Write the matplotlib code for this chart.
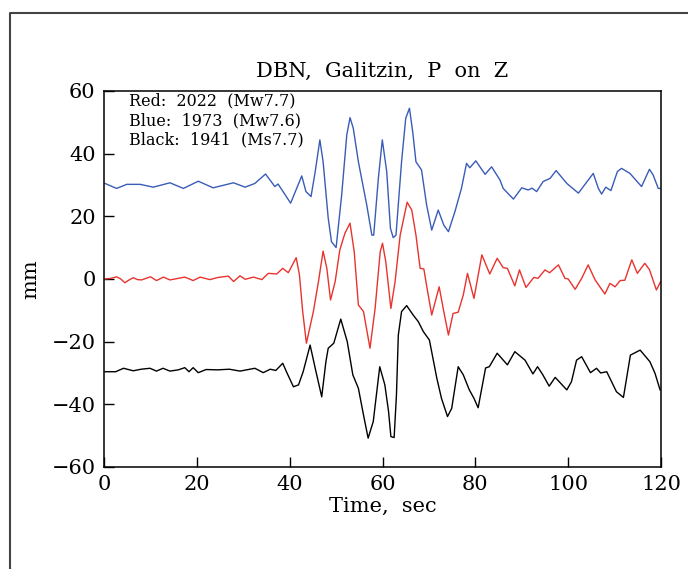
import matplotlib
matplotlib.use('Agg')
import matplotlib.pyplot as plt
from matplotlib.lines import Line2D

# seismogram traces (time in sec, amplitude in mm)
blue_t = [0.2, 2.7, 4.9, 7.8, 10.6, 14.2, 17.1, 20.3, 23.5, 27.9, 30.4, 32.5, 34.8, 36.8, 37.5,
          40.2, 42.6, 43.5, 44.6, 45.5, 46.5, 47.2, 48.3, 49.0, 50.0, 51.2, 52.3, 53.0, 53.7,
          54.8, 56.6, 57.7, 58.1, 59.1, 59.95, 60.9, 61.7, 62.3, 62.9, 64.1, 65.0, 65.8, 66.5,
          67.2, 68.4, 69.5, 70.6, 72.0, 73.2, 74.2, 75.6, 77.0, 78.1, 78.8, 80.1, 82.1, 83.5,
          85.3, 86.0, 88.2, 90.0, 91.4, 92.2, 93.2, 94.6, 96.1, 97.4, 99.7, 102.2, 105.4, 106.5,
          107.2, 108.1, 109.2, 110.6, 111.5, 113.3, 115.8, 117.5, 118.3, 119.4, 120.0]
blue_mm = [30.5, 28.9, 30.2, 30.2, 29.3, 30.7, 28.9, 31.2, 29.1, 30.7, 29.3, 30.5, 33.5, 29.5, 30.3,
           24.2, 32.9, 27.9, 26.3, 34.3, 44.4, 37.4, 19.4, 11.9, 10.0, 26.8, 46.0, 51.5, 48.1,
           37.4, 23.6, 14.0, 14.0, 32.1, 44.4, 34.3, 16.2, 13.2, 14.0, 37.4, 51.3, 54.5, 47.0,
           37.4, 34.8, 23.6, 15.6, 22.0, 17.2, 15.1, 21.5, 28.9, 36.9, 35.5, 37.7, 33.4, 35.8,
           31.6, 28.9, 25.5, 29.1, 28.4, 29.0, 27.9, 31.1, 32.1, 34.6, 30.5, 27.4, 33.7, 28.9,
           27.1, 29.3, 28.2, 34.3, 35.3, 33.7, 29.5, 35.0, 33.2, 28.9, 28.9]

red_t = [0.2, 1.5, 2.7, 3.6, 4.5, 5.4, 6.3, 7.2, 8.1, 10.0, 11.3, 12.8, 14.2, 16.0, 17.4, 19.2,
         20.7, 22.8, 24.6, 26.8, 27.9, 29.3, 30.4, 32.2, 34.0, 35.4, 37.2, 38.5, 39.7, 41.4,
         42.1, 42.8, 43.6, 45.1, 46.2, 47.2, 48.0, 48.8, 49.8, 50.8, 51.9, 53.0, 53.9, 54.8,
         55.9, 57.3, 58.4, 59.5, 60.0, 60.7, 61.8, 62.7, 63.8, 65.3, 66.3, 67.2, 68.1, 68.9,
         69.6, 70.6, 72.2, 73.2, 74.2, 75.2, 76.3, 77.4, 78.3, 79.7, 81.4, 83.1, 84.7, 86.0,
         86.9, 88.5, 89.5, 90.9, 92.6, 93.5, 95.0, 96.0, 97.9, 99.3, 100.0, 101.5, 102.9, 104.3,
         105.8, 107.9, 109.0, 110.1, 111.2, 112.2, 113.7, 114.9, 116.5, 117.5, 119.0, 119.9]
red_mm = [0.0, 0.2, 0.7, 0.0, -1.2, -0.3, 0.4, -0.2, -0.3, 0.7, -0.5, 0.6, -0.3, 0.2, 0.6, -0.5,
          0.6, -0.2, 0.5, 0.9, -0.8, 1.0, -0.1, 0.6, -0.2, 1.8, 1.6, 3.4, 2.0, 6.8,
          1.3, -10.4, -20.5, -10.4, -0.8, 8.9, 3.4, -6.7, -0.8, 9.3, 14.6, 17.8, 8.7, -8.3,
          -10.4, -22.1, -9.4, 8.7, 11.4, 5.5, -9.4, -0.9, 14.0, 24.5, 22.0, 14.0, 3.4, 3.2,
          -3.0, -11.5, -2.5, -10.4, -17.9, -11.0, -10.6, -5.1, 1.8, -6.2, 7.7, 1.6, 6.6, 3.6,
          3.4, -2.2, 2.9, -2.7, 0.5, 0.2, 2.9, 2.0, 4.5, 0.2, 0.0, -3.3, 0.2, 4.5,
          -0.3, -4.8, -1.4, -2.5, -0.5, -0.4, 6.1, 1.8, 5.0, 3.0, -3.5, -0.9]

black_t = [0.2, 2.5, 4.2, 6.3, 8.0, 9.9, 11.3, 12.7, 14.2, 16.0, 17.4, 18.3, 19.2, 20.3, 22.0,
           24.5, 27.0, 29.3, 32.5, 34.3, 35.8, 37.0, 38.5, 39.3, 40.8, 41.9, 42.9, 44.4, 45.5,
           46.9, 47.8, 48.3, 49.5, 51.0, 52.4, 53.6, 54.8, 55.9, 56.9, 58.0, 59.4, 60.5, 61.3,
           61.8, 62.5, 63.0, 63.4, 64.1, 65.2, 66.6, 67.7, 68.8, 70.1, 71.7, 72.7, 74.0, 74.9,
           76.3, 77.4, 78.7, 79.7, 80.6, 82.2, 83.0, 84.7, 86.9, 88.5, 90.7, 92.4, 93.4, 94.5,
           95.9, 97.2, 99.7, 100.7, 101.8, 102.9, 104.8, 106.1, 107.0, 108.3, 110.4, 111.9,
           113.4, 115.5, 117.6, 118.7, 119.8]
black_mm = [-29.6, -29.6, -28.5, -29.3, -28.8, -28.5, -29.4, -28.5, -29.4, -29.0, -28.3, -29.6,
            -28.3, -29.9, -28.9, -29.0, -28.8, -29.4, -28.5, -29.9, -28.8, -29.2, -26.9, -29.6,
            -34.4, -33.8, -29.6, -21.1, -28.5, -37.6, -26.4, -22.1, -20.5, -12.8, -20.0, -30.6,
            -34.9, -43.4, -50.8, -45.5, -28.0, -33.8, -42.3, -50.3, -50.6, -37.0, -17.9, -10.4,
            -8.5, -11.5, -13.6, -16.8, -19.5, -31.7, -38.1, -43.9, -41.3, -28.0, -30.6, -35.4,
            -38.1, -41.1, -28.4, -28.0, -23.7, -27.4, -23.2, -25.9, -30.3, -28.0, -30.5, -34.2,
            -31.4, -35.4, -32.8, -25.9, -24.8, -29.9, -28.5, -30.0, -29.6, -36.0, -37.8, -24.3,
            -22.7, -26.4, -30.1, -35.4]

legend_lines = ['Red:  2022  (Mw7.7)', 'Blue:  1973  (Mw7.6)', 'Black:  1941  (Ms7.7)']

plt.rcParams['font.family'] = 'DejaVu Serif'

fig = plt.figure(figsize=(6.88, 5.69), dpi=100)
ax = fig.add_axes([0.1512, 0.1793, 0.8096, 0.6608])

ax.plot(blue_t, blue_mm, color='#3a5cb8', lw=1.0)
ax.plot(red_t, red_mm, color='#e8332e', lw=1.0)
ax.plot(black_t, black_mm, color='black', lw=1.0)

ax.set_xlim(0, 120)
ax.set_ylim(-60, 60)
ax.set_xticks([0, 20, 40, 60, 80, 100, 120])
ax.set_yticks([-60, -40, -20, 0, 20, 40, 60])
ax.tick_params(direction='in', length=7, width=1, labelsize=15, pad=6)
for s in ax.spines.values():
    s.set_linewidth(1.1)

ax.set_title('DBN,  Galitzin,  P  on  Z', fontsize=15, pad=10)
ax.set_xlabel('Time,  sec', fontsize=15, labelpad=2)
ax.set_ylabel('mm', fontsize=15, labelpad=8)

for i, txt in enumerate(legend_lines):
    ax.text(0.045, 0.995 - i * 0.051, txt, transform=ax.transAxes, fontsize=11.5, va='top')

# outer frame of the page, runs off the right and bottom edges
fig.add_artist(Line2D([0.0145, 0.0145, 1.0], [0.0, 0.977, 0.977],
                      transform=fig.transFigure, color='#444444', lw=1.5))

fig.savefig('out.png', dpi=100)
